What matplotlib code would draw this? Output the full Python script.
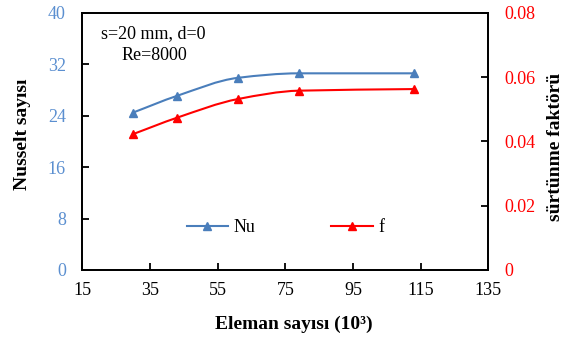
import matplotlib
matplotlib.use("Agg")
import matplotlib.pyplot as plt
import numpy as np
from matplotlib.path import Path
from matplotlib.patches import PathPatch
from matplotlib.lines import Line2D

plt.rcParams['font.family'] = ['Liberation Serif', 'DejaVu Serif']

# mesh size (x10^3 elements) and results
eleman = [30, 43, 61, 79, 113]
nu = [24.5, 27.1, 29.9, 30.6, 30.6]
f = [0.0423, 0.0474, 0.0532, 0.0558, 0.0563]

BLUE = '#4a7ebb'
RED = '#ff0000'
BLUE_TXT = '#5b8fd0'


def smooth_path(x, y):
    # cubic hermite in x drawn as bezier segments (smoothed line through the points)
    x = np.asarray(x, float)
    y = np.asarray(y, float)
    n = len(x)
    d = np.zeros(n)
    d[0] = (y[1] - y[0]) / (x[1] - x[0])
    d[-1] = (y[-1] - y[-2]) / (x[-1] - x[-2])
    for i in range(1, n - 1):
        s0 = (y[i] - y[i - 1]) / (x[i] - x[i - 1])
        s1 = (y[i + 1] - y[i]) / (x[i + 1] - x[i])
        d[i] = 0.0 if s0 * s1 <= 0 else 2 / (1 / s0 + 1 / s1)
    verts = [(x[0], y[0])]
    codes = [Path.MOVETO]
    for i in range(n - 1):
        h = x[i + 1] - x[i]
        verts += [(x[i] + h / 3, y[i] + d[i] * h / 3),
                  (x[i + 1] - h / 3, y[i + 1] - d[i + 1] * h / 3),
                  (x[i + 1], y[i + 1])]
        codes += [Path.CURVE4] * 3
    return Path(verts, codes)


W, H = 565, 340
fig = plt.figure(figsize=(W / 100, H / 100), dpi=100)
ax = fig.add_axes([0.146, 0.206, 0.718, 0.756])
ax2 = ax.twinx()

ax.add_patch(PathPatch(smooth_path(eleman, nu), fill=False, edgecolor=BLUE, lw=1.5))
ax.plot(eleman, nu, ls='none', marker='^', ms=6, color=BLUE)
ax2.add_patch(PathPatch(smooth_path(eleman, f), fill=False, edgecolor=RED, lw=1.5))
ax2.plot(eleman, f, ls='none', marker='^', ms=6, color=RED)

ax.set_xlim(15, 135)
ax.set_ylim(0, 40)
ax2.set_ylim(0, 0.08)
ax.set_xticks(np.arange(15, 136, 20))
ax.set_yticks(np.arange(0, 41, 8))
ax2.set_yticks([0, 0.02, 0.04, 0.06, 0.08])
ax2.set_yticklabels(['0', '0.02', '0.04', '0.06', '0.08'])

for a in (ax, ax2):
    for s in a.spines.values():
        s.set_linewidth(1.3)
ax.tick_params(axis='x', direction='in', length=5, width=1.3, labelsize=13, pad=9)
ax.tick_params(axis='y', direction='in', length=5, width=1.3, labelsize=13,
               labelcolor=BLUE_TXT, pad=12)
ax2.tick_params(axis='y', direction='in', length=5, width=1.3, labelsize=13,
                labelcolor=RED, pad=12)

# axis titles placed in figure pixels
fig.text(294 / W, 1 - 324 / H, 'Eleman sayısı (10³)', fontsize=14, fontweight='bold',
         ha='center', va='center')
fig.text(23 / W, 1 - 134 / H, 'Nusselt sayısı', fontsize=14, fontweight='bold',
         ha='center', va='center', rotation=90)
fig.text(555 / W, 1 - 147 / H, 'sürtünme faktörü', fontsize=14, fontweight='bold',
         ha='center', va='center', rotation=90)

ax.text(0.045, 0.92, 's=20 mm, d=0', transform=ax.transAxes, fontsize=13, va='center')
ax.text(0.097, 0.835, 'Re=8000', transform=ax.transAxes, fontsize=13, va='center')

h1 = Line2D([], [], color=BLUE, lw=1.5, marker='^', ms=6)
h2 = Line2D([], [], color=RED, lw=1.5, marker='^', ms=6)
ax.legend([h1, h2], ['Nu', 'f'], ncol=2, loc='center', bbox_to_anchor=(0.5, 0.165),
          frameon=False, fontsize=13, columnspacing=4.2, handlelength=2.3, handletextpad=0.3)

fig.savefig('out.png', dpi=100)
